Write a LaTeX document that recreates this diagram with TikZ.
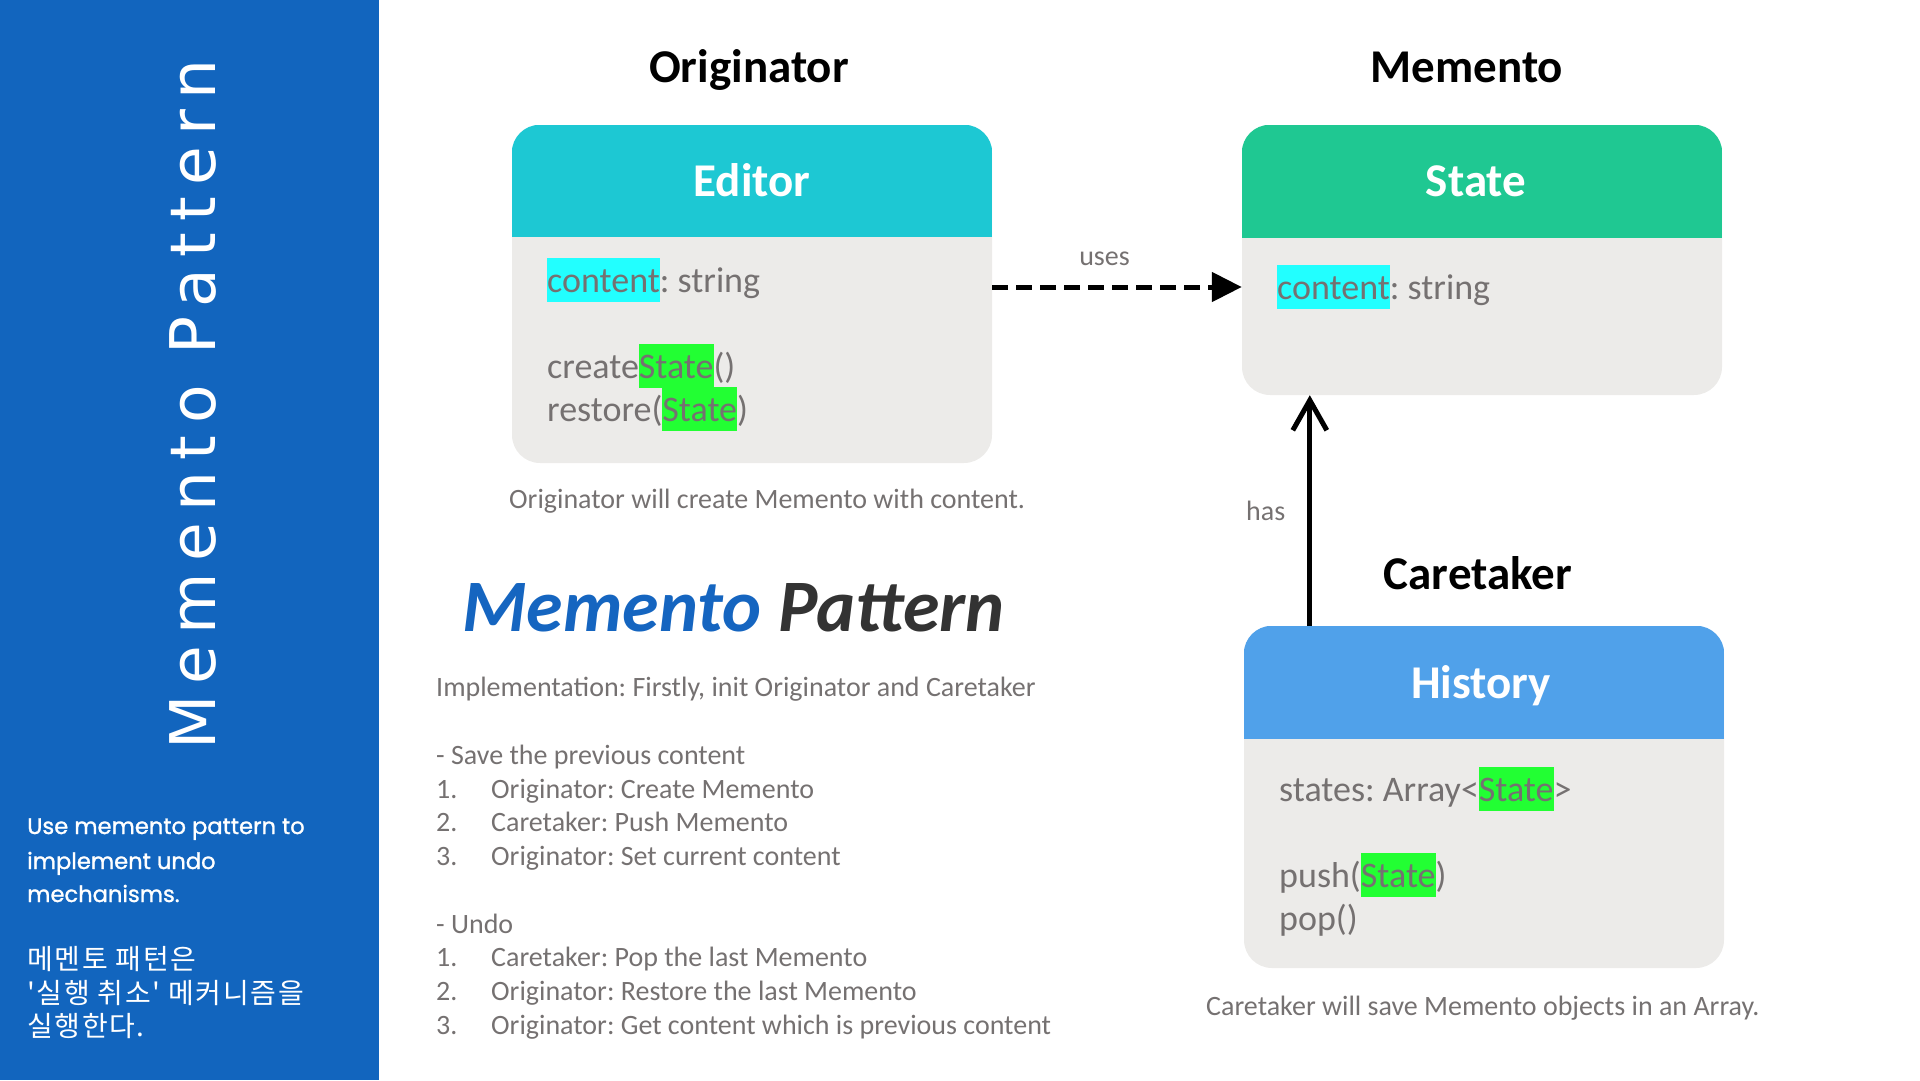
\documentclass[tikz,border=0pt]{standalone}
\usepackage{fontspec}
\setmainfont{Carlito}
\newfontfamily\sidefont[FakeBold=1.2]{Poppins}
\newfontfamily\vertfont[LetterSpace=18]{DejaVu Sans}
\newfontfamily\krfont[LetterSpace=6]{Noto Sans CJK KR}
\usetikzlibrary{arrows.meta}
\frenchspacing

\definecolor{sideblue}{RGB}{18,101,190}
\definecolor{editorcol}{RGB}{29,200,211}
\definecolor{statecol}{RGB}{31,200,146}
\definecolor{historycol}{RGB}{80,161,234}
\definecolor{bodygray}{RGB}{236,235,233}
\definecolor{textgray}{RGB}{117,113,113}
\definecolor{hlcyan}{RGB}{34,255,255}
\definecolor{hlgreen}{RGB}{34,255,51}
\definecolor{titleblue}{RGB}{21,101,192}
\definecolor{titledark}{RGB}{51,51,51}

\newcommand{\hilite}[2]{{\setlength{\fboxsep}{0pt}\colorbox{#1}{\rule[-0.28em]{0pt}{1.22em}#2}}}

\tikzset{
  classbox/.style={rectangle, rounded corners=28pt, fill=bodygray, inner sep=0pt, minimum width=480pt},
  headtext/.style={font=\fontsize{47}{56}\selectfont\bfseries, text=white, anchor=base, inner sep=0pt},
  roletext/.style={font=\fontsize{47}{56}\selectfont\bfseries, anchor=base, inner sep=0pt},
  member/.style={font=\fontsize{36}{43}\selectfont, text=textgray, anchor=base west, inner sep=0pt},
  note/.style={font=\fontsize{28}{34}\selectfont, text=textgray, anchor=base west, inner sep=0pt},
  sidetext/.style={font=\sidefont\fontsize{22.6}{33}\selectfont, text=white, anchor=base west, inner sep=0pt},
  sidekr/.style={font=\krfont\fontsize{28}{34}\selectfont, text=white, anchor=base west, inner sep=0pt},
}

\begin{document}
\begin{tikzpicture}[x=1pt, y=-1pt]
  \useasboundingbox (0,0) rectangle (1920,1080);

  % side panel
  \fill[sideblue] (0,0) rectangle (379,1080);
  \node[font=\vertfont\fontsize{63}{70}\selectfont, text=white, rotate=90, anchor=base west, inner sep=0pt] (vtitle) at (215,750) {Memento Pattern};
  \node[sidetext] (side1) at (27,834) {Use memento pattern to};
  \node[sidetext] (side2) at (27,869) {implement undo};
  \node[sidetext] (side3) at (27,902) {mechanisms.};
  \node[sidekr] (kr1) at (27,969) {메멘토 패턴은};
  \node[sidekr] (kr2) at (27,1003) {'실행 취소' 메커니즘을};
  \node[sidekr] (kr3) at (27,1036) {실행한다.};

  % roles
  \node[roletext] (orig) at (749,82) {Originator};
  \node[roletext] (memento) at (1467,82) {Memento};
  \node[roletext] (care) at (1478,589) {Caretaker};

  % class boxes
  \node[classbox, minimum height=338pt] (editor) at (752,294) {};
  \node[classbox, minimum height=270pt] (state) at (1482,260) {};
  \node[classbox, minimum height=342pt] (history) at (1484,797) {};
  \begin{scope}
    \clip[rounded corners=28pt] (editor.north west) rectangle (editor.south east);
    \fill[editorcol] (editor.north west) rectangle ([yshift=-112pt]editor.north east);
  \end{scope}
  \begin{scope}
    \clip[rounded corners=28pt] (state.north west) rectangle (state.south east);
    \fill[statecol] (state.north west) rectangle ([yshift=-113pt]state.north east);
  \end{scope}
  \begin{scope}
    \clip[rounded corners=28pt] (history.north west) rectangle (history.south east);
    \fill[historycol] (history.north west) rectangle ([yshift=-113pt]history.north east);
  \end{scope}
  \node[headtext] (editorname) at ([yshift=-72pt]editor.north) {Editor};
  \node[headtext] (statename) at ([xshift=-6pt,yshift=-72pt]state.north) {State};
  \node[headtext] (historyname) at ([xshift=-3pt,yshift=-73pt]history.north) {History};

  % members
  \node[member] (ecnt) at (547,292) {\hilite{hlcyan}{content}: string};
  \node[member] (ecreate) at (547,378) {create\hilite{hlgreen}{State}()};
  \node[member] (erestore) at (547,421) {restore(\hilite{hlgreen}{State})};
  \node[member] (scnt) at (1277,299) {\hilite{hlcyan}{content}: string};
  \node[member] (hstates) at (1279,801) {states: Array<\hilite{hlgreen}{State}>};
  \node[member] (hpush) at (1279,887) {push(\hilite{hlgreen}{State})};
  \node[member] (hpop) at (1279,930) {pop()};

  % captions
  \node[note] (ecap) at (509,508) {Originator will create Memento with content.};
  \node[note] (hcap) at (1206,1015) {Caretaker will save Memento objects in an Array.};

  % connectors
  \coordinate (usesrow) at (1100,287);
  \draw[line width=5pt, dash pattern=on 16pt off 8pt, -{Triangle[length=30pt,width=29pt]}]
    (editor.east |- usesrow) -- (state.west |- usesrow)
    node[pos=0.45, above=22pt, anchor=base, font=\fontsize{28}{34}\selectfont, text=textgray, inner sep=0pt] (useslbl) {uses};
  \coordinate (hasfoot) at ([xshift=66pt]history.north west);
  \draw[line width=5pt, -{Straight Barb[length=30pt,width=34pt]}]
    (hasfoot) -- (hasfoot |- state.south)
    node[midway, left=22pt, font=\fontsize{28}{34}\selectfont, text=textgray, inner sep=0pt] (haslbl) {has};

  % title and steps
  \node[anchor=base west, inner sep=0pt, font=\fontsize{74}{80}\selectfont\bfseries\itshape] (title) at (462,631)
    {\textcolor{titleblue}{Memento} \textcolor{titledark}{Pattern}};
  \node[note] (impl) at (436,696) {Implementation: Firstly, init Originator and Caretaker};
  \node[note] (save) at (436,764) {- Save the previous content};
  \node[note] (save1) at (436,798) {\makebox[55pt][l]{1.}Originator: Create Memento};
  \node[note] (save2) at (436,831) {\makebox[55pt][l]{2.}Caretaker: Push Memento};
  \node[note] (save3) at (436,865) {\makebox[55pt][l]{3.}Originator: Set current content};
  \node[note] (undo) at (436,933) {- Undo};
  \node[note] (undo1) at (436,966) {\makebox[55pt][l]{1.}Caretaker: Pop the last Memento};
  \node[note] (undo2) at (436,1000) {\makebox[55pt][l]{2.}Originator: Restore the last Memento};
  \node[note] (undo3) at (436,1034) {\makebox[55pt][l]{3.}Originator: Get content which is previous content};
\end{tikzpicture}
\end{document}
